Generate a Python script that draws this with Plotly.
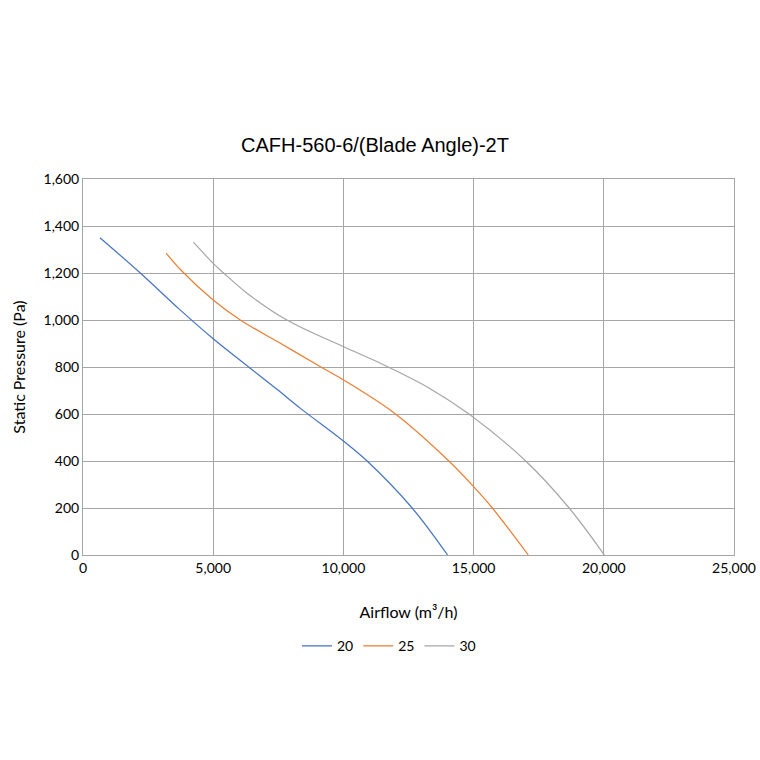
import plotly.graph_objects as go

# Blade angle 20
airflow_20 = [650, 2200, 3730, 5000, 6360, 7450, 8350, 10000, 10910, 12640, 14000]
pressure_20 = [1350, 1200, 1043, 920, 800, 705, 624, 485, 400, 200, 0]

# Blade angle 25
airflow_25 = [3190, 3730, 5000, 6040, 7580, 9120, 10010, 10590, 12000, 14050, 15000, 15720, 17100]
pressure_25 = [1285, 1216, 1085, 1000, 901, 801, 745, 705, 600, 400, 291, 200, 0]

# Blade angle 30
airflow_30 = [4240, 5000, 5400, 6300, 7830, 10010, 11420, 13300, 14820, 17000, 18670, 20020]
pressure_30 = [1331, 1241, 1200, 1114, 1000, 886, 816, 710, 600, 400, 200, 0]

series = [
    ("20", airflow_20, pressure_20, "#4472C4"),
    ("25", airflow_25, pressure_25, "#ED7D31"),
    ("30", airflow_30, pressure_30, "#A5A5A5"),
]

fig = go.Figure()
for name, x, y, color in series:
    fig.add_trace(
        go.Scatter(
            x=x,
            y=y,
            name=name,
            mode="lines",
            line=dict(color=color, width=1.2, shape="spline", smoothing=1.0),
        )
    )

W = 760
H = 760
font_family = "Lato, Open Sans, sans-serif"
tick_font = dict(family=font_family, size=14, color="#000000")
title_font = dict(family=font_family, size=16, color="#000000")

fig.update_layout(
    width=W,
    height=H,
    paper_bgcolor="white",
    plot_bgcolor="white",
    margin=dict(l=83, r=26, t=179, b=205),
    title=dict(
        text="CAFH-560-6/(Blade Angle)-2T",
        x=375 / W,
        xanchor="center",
        y=1 - 145 / H,
        yanchor="middle",
        font=dict(family="Liberation Sans, Arial, sans-serif", size=20, color="#000000"),
    ),
    legend=dict(
        orientation="h",
        x=0.47,
        xanchor="center",
        y=-0.2,
        yanchor="top",
        font=tick_font,
        itemwidth=30,
    ),
)

fig.update_xaxes(
    range=[0, 25000],
    dtick=5000,
    tickformat=",d",
    automargin=False,
    showgrid=True,
    gridcolor="#a6a6a6",
    gridwidth=1,
    showline=True,
    linecolor="#a6a6a6",
    mirror=True,
    zeroline=False,
    ticks="",
    tickfont=tick_font,
    title=dict(text="Airflow (m³/h)", font=title_font, standoff=32),
)
fig.update_yaxes(
    range=[0, 1600],
    dtick=200,
    tickformat=",d",
    automargin=False,
    showgrid=True,
    gridcolor="#a6a6a6",
    gridwidth=1,
    showline=True,
    linecolor="#a6a6a6",
    mirror=True,
    zeroline=False,
    ticks="",
    tickfont=tick_font,
    title=dict(text="Static Pressure (Pa)", font=title_font, standoff=13),
)

# drop the default 8px body margin so the 760px figure fills the window
fig.write_html(
    "out.html",
    config={"displayModeBar": False},
    post_script="document.body.style.margin = '0';",
)
